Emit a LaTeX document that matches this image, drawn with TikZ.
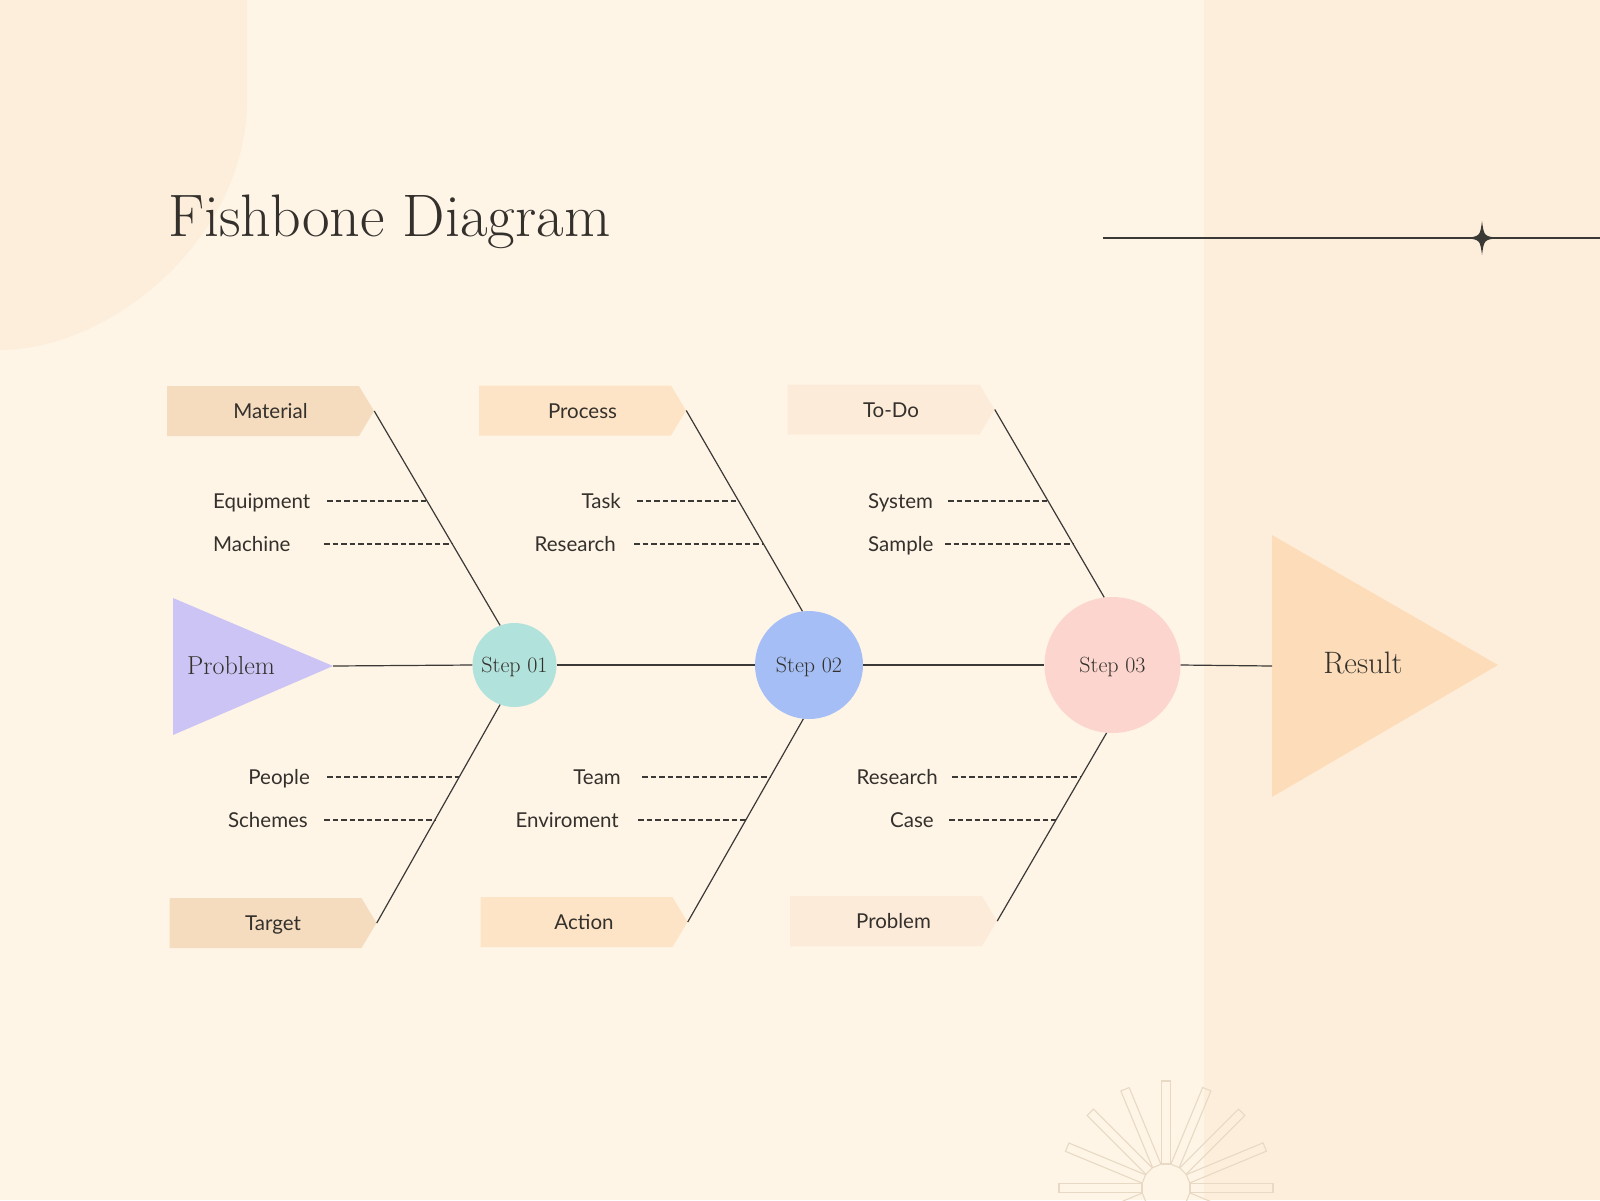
\documentclass[tikz,border=0pt]{standalone}
\usepackage{fontspec}
\newfontfamily\labelfont{Lato}
\usetikzlibrary{shapes.symbols,calc}
\definecolor{bgc}{HTML}{FEF5E7}
\definecolor{panelc}{HTML}{FDEEDB}
\definecolor{tanc}{HTML}{F5DCBE}
\definecolor{peachc}{HTML}{FEE4C6}
\definecolor{lightc}{HTML}{FDEBD9}
\definecolor{lavc}{HTML}{CBC4F4}
\definecolor{mintc}{HTML}{B2E2DC}
\definecolor{bluec}{HTML}{A5BFF6}
\definecolor{pinkc}{HTML}{FDD5CF}
\definecolor{resc}{HTML}{FDDDB9}
\definecolor{inkc}{HTML}{34302C}
\definecolor{linec}{HTML}{3B3936}
\definecolor{rayc}{HTML}{E8D9C4}
\begin{document}
\begin{tikzpicture}[x=1pt,y=-1pt,
  bone/.style={draw=linec,line width=1.2pt},
  tick/.style={draw=linec,line width=1.1pt,dash pattern=on 5.5pt off 3pt},
  fbox/.style={signal,signal to=east,signal pointer angle=118,minimum width=207pt,minimum height=50pt,inner sep=0pt,
    text=inkc,font={\labelfont\fontsize{20.5}{25}\selectfont},text height=15pt,text depth=0pt},
  lbl/.style={text=inkc,font={\labelfont\fontsize{20.5}{25}\selectfont},inner sep=0pt},
  stepc/.style={circle,inner sep=0pt,text=inkc,font={\fontsize{22}{26}\selectfont},text height=15pt,text depth=0pt},
  ray/.style={draw=rayc,line width=1.1pt}]
\clip (0,0) rectangle (1600,1200);
% background
\fill[bgc] (0,0) rectangle (1600,1200);
\fill[panelc] (1204,0) rectangle (1600,1200);
\fill[panelc] (0,0) -- (247,0) -- (247,100) .. controls (247,238) and (111,350) .. (0,350) -- cycle;
% title
\node[anchor=base west,inner sep=0pt,text=inkc,font={\fontsize{60}{64}\selectfont}] (title) at (168,236) {Fishbone Diagram};
% rule with star
\coordinate (l0) at (1103,238);
\coordinate (l1) at (1600,238);
\draw[bone] (l0) -- (l1);
\coordinate (st) at (1482,238);
\fill[linec] ($(st)+(0,-17)$) .. controls ($(st)+(2,-2)$) .. ($(st)+(15.5,0)$) .. controls ($(st)+(2,2)$) .. ($(st)+(0,17)$) .. controls ($(st)+(-2,2)$) .. ($(st)+(-15.5,0)$) .. controls ($(st)+(-2,-2)$) .. cycle;
% sunburst
\coordinate (sc) at (1166,1188);
\foreach \a in {0,22.5,...,337.5}{
  \draw[ray,rotate around={\a:(sc)}] ($(sc)+(24,-4.5)$) rectangle ($(sc)+(107,4.5)$);
}
% problem head and result
\fill[lavc] (173,598) -- (333,666) -- (173,735) -- cycle;
\coordinate (ptip) at (333,666);
\node[text=inkc,inner sep=0pt,font={\fontsize{26}{30}\selectfont},text height=17pt,text depth=0pt] (prob) at (231,666) {Problem};
\fill[resc] (1272,535) -- (1498,665) -- (1272,797) -- cycle;
\coordinate (rbase) at (1272,666);
\node[text=inkc,inner sep=0pt,font={\fontsize{31}{35}\selectfont},text height=21pt,text depth=0pt] (res) at (1363,663) {Result};
% steps
\node[stepc,fill=mintc,minimum size=84pt] (s1) at (514.5,665) {Step 01};
\node[stepc,fill=bluec,minimum size=108pt] (s2) at (809,665) {Step 02};
\node[stepc,fill=pinkc,minimum size=136pt] (s3) at (1112.5,665) {Step 03};
% spine
\draw[bone] (ptip) -- (s1.west);
\draw[bone] (s1.east) -- (s2.west);
\draw[bone] (s2.east) -- (s3.west);
\draw[bone] (s3.east) -- (rbase);
% category boxes (text centred on whole arrow shape)
\node[fbox,fill=tanc] (mat) at (263,411) {\hspace*{15pt}Material};
\node[fbox,fill=peachc] (proc) at (575,410.5) {\hspace*{15pt}Process};
\node[fbox,fill=lightc] (todo) at (883.5,409.5) {\hspace*{15pt}To-Do};
\node[fbox,fill=tanc] (targ) at (265.5,923) {\hspace*{15pt}Target};
\node[fbox,fill=peachc] (act) at (576.5,922) {\hspace*{15pt}Action};
\node[fbox,fill=lightc] (prob2) at (886,921) {\hspace*{15pt}Problem};
% bones
\draw[bone] (mat.east) -- (s1.110);
\draw[bone] (s1.250) -- (targ.east);
\draw[bone] (proc.east) -- (s2.97);
\draw[bone] (s2.264) -- (act.east);
\draw[bone] (todo.east) -- (s3.97);
\draw[bone] (s3.265) -- (prob2.east);
% points on bones
\coordinate (b11) at ($(mat.east)!0.4206!(s1.110)$);
\coordinate (b12) at ($(mat.east)!0.6215!(s1.110)$);
\coordinate (b13) at ($(s1.250)!0.330!(targ.east)$);
\coordinate (b14) at ($(s1.250)!0.5275!(targ.east)$);
\coordinate (b21) at ($(proc.east)!0.451!(s2.97)$);
\coordinate (b22) at ($(proc.east)!0.666!(s2.97)$);
\coordinate (b23) at ($(s2.264)!0.282!(act.east)$);
\coordinate (b24) at ($(s2.264)!0.495!(act.east)$);
\coordinate (b31) at ($(todo.east)!0.485!(s3.97)$);
\coordinate (b32) at ($(todo.east)!0.714!(s3.97)$);
\coordinate (b33) at ($(s3.265)!0.234!(prob2.east)$);
\coordinate (b34) at ($(s3.265)!0.463!(prob2.east)$);
% sub-cause labels
\node[lbl,anchor=base west] (equ) at (213,508) {Equipment};
\node[lbl,anchor=base west] (mac) at (213,551) {Machine};
\node[lbl,anchor=base east] (peo) at (310,784) {People};
\node[lbl,anchor=base east] (sch) at (308,827) {Schemes};
\node[lbl,anchor=base east] (task) at (621,508) {Task};
\node[lbl,anchor=base east] (resa) at (616,551) {Research};
\node[lbl,anchor=base east] (team) at (621,784) {Team};
\node[lbl,anchor=base east] (env) at (619,827) {Enviroment};
\node[lbl,anchor=base west] (sys) at (868,508) {System};
\node[lbl,anchor=base west] (samp) at (868,551) {Sample};
\node[lbl,anchor=base east] (resb) at (938,784) {Research};
\node[lbl,anchor=base east] (case) at (934,827) {Case};
% dash starts
\coordinate (d11) at (327,501);
\coordinate (d12) at (324,544);
\coordinate (d13) at (327,777);
\coordinate (d14) at (324,820);
\coordinate (d21) at (637,501);
\coordinate (d22) at (634,544);
\coordinate (d23) at (642,777);
\coordinate (d24) at (638,820);
\coordinate (d31) at (948,501);
\coordinate (d32) at (945,544);
\coordinate (d33) at (952,777);
\coordinate (d34) at (949,820);
\foreach \i in {11,12,13,14,21,22,23,24,31,32,33,34}{
  \draw[tick] (d\i) -- (d\i -| b\i);
}
\end{tikzpicture}
\end{document}
